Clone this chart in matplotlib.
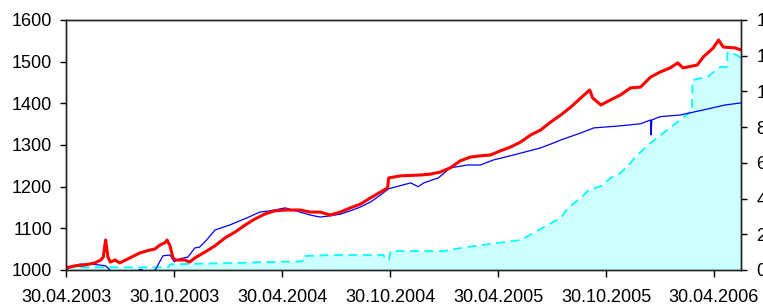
import pandas as pd
import matplotlib
matplotlib.use("Agg")
import matplotlib.pyplot as plt
import matplotlib.dates as mdates

plt.rcParams['font.family'] = ['Liberation Sans', 'DejaVu Sans']
plt.rcParams['font.size'] = 13

# red series (left axis)
red_dates = ['2003-04-30', '2003-05-15', '2003-06-01', '2003-06-18', '2003-06-28', '2003-07-02',
             '2003-07-06', '2003-07-10', '2003-07-14', '2003-07-22', '2003-07-30', '2003-08-16',
             '2003-09-02', '2003-09-19', '2003-09-27', '2003-10-06', '2003-10-14', '2003-10-18',
             '2003-10-23', '2003-10-28', '2003-11-02', '2003-11-17', '2003-11-25', '2003-12-04',
             '2003-12-21', '2004-01-07', '2004-01-24', '2004-02-10', '2004-02-27', '2004-03-14',
             '2004-03-31', '2004-04-17', '2004-05-05', '2004-05-30', '2004-06-16', '2004-07-03',
             '2004-07-20', '2004-08-06', '2004-08-23', '2004-09-09', '2004-09-26', '2004-10-13',
             '2004-10-25', '2004-10-27', '2004-11-16', '2004-12-20', '2005-01-05', '2005-01-22',
             '2005-02-08', '2005-02-25', '2005-03-14', '2005-03-31', '2005-04-17', '2005-05-04',
             '2005-05-21', '2005-06-07', '2005-06-24', '2005-07-11', '2005-07-28', '2005-08-14',
             '2005-08-31', '2005-09-17', '2005-10-02', '2005-10-07', '2005-10-21', '2005-11-06',
             '2005-11-23', '2005-12-10', '2005-12-27', '2006-01-13', '2006-01-29', '2006-02-15',
             '2006-02-28', '2006-03-09', '2006-04-02', '2006-04-12', '2006-04-29', '2006-05-08',
             '2006-05-16', '2006-06-05', '2006-06-15']
red_vals = [1005, 1010, 1012, 1017, 1024, 1031,
            1072, 1031, 1019, 1024, 1017, 1029,
            1041, 1048, 1050, 1060, 1065, 1072,
            1058, 1029, 1024, 1024, 1019, 1029,
            1043, 1058, 1077, 1091, 1108, 1122,
            1134, 1142, 1144, 1144, 1139, 1139,
            1132, 1139, 1149, 1158, 1173, 1187,
            1197, 1221, 1226, 1228, 1230, 1235,
            1245, 1262, 1271, 1274, 1276, 1286,
            1295, 1307, 1324, 1336, 1355, 1372,
            1391, 1413, 1432, 1413, 1396, 1408,
            1420, 1437, 1439, 1463, 1475, 1485,
            1497, 1485, 1492, 1511, 1533, 1552,
            1535, 1533, 1528]

# blue series (left axis)
blue_dates = ['2003-04-30', '2003-05-07', '2003-05-23', '2003-06-09', '2003-06-26', '2003-07-06',
              '2003-07-13', '2003-07-20', '2003-08-24', '2003-09-01', '2003-09-06', '2003-09-10',
              '2003-09-28', '2003-10-11', '2003-10-23', '2003-10-30', '2003-11-09', '2003-11-22',
              '2003-11-25', '2003-12-04', '2003-12-12', '2003-12-24', '2004-01-07', '2004-02-01',
              '2004-03-01', '2004-03-23', '2004-04-09', '2004-05-05', '2004-05-30', '2004-06-16',
              '2004-07-03', '2004-07-20', '2004-08-06', '2004-08-23', '2004-09-09', '2004-09-26',
              '2004-10-13', '2004-10-27', '2004-12-03', '2004-12-16', '2004-12-25', '2005-01-19',
              '2005-02-08', '2005-03-09', '2005-03-31', '2005-04-22', '2005-05-26', '2005-07-11',
              '2005-08-02', '2005-08-14', '2005-09-17', '2005-10-09', '2005-11-23', '2005-12-27',
              '2006-01-13', '2006-01-14', '2006-01-15', '2006-01-29', '2006-03-04', '2006-04-12',
              '2006-05-19', '2006-06-15']
blue_vals = [1000, 1007, 1014, 1014, 1012, 1010,
             1000, 985, 980, 1001, 1001, 985,
             1000, 1034, 1036, 1020, 1027, 1031,
             1036, 1053, 1055, 1072, 1096, 1108,
             1125, 1139, 1142, 1149, 1139, 1132,
             1127, 1130, 1134, 1142, 1151, 1163,
             1180, 1195, 1209, 1200, 1209, 1221,
             1245, 1252, 1252, 1264, 1276, 1293,
             1305, 1312, 1329, 1341, 1346, 1351,
             1360, 1324, 1360, 1368, 1372, 1384,
             1396, 1401]

# cyan area (right axis)
cyan_dates = ['2003-04-30', '2003-10-20', '2003-10-23', '2004-01-24', '2004-04-26', '2004-06-03',
              '2004-06-04', '2004-07-20', '2004-10-18', '2004-10-22', '2004-10-27', '2004-10-30',
              '2005-01-27', '2005-03-09', '2005-04-29', '2005-06-07', '2005-06-29', '2005-07-23',
              '2005-08-14', '2005-08-26', '2005-09-17', '2005-09-30', '2005-10-21', '2005-11-06',
              '2005-11-23', '2005-12-10', '2005-12-18', '2006-01-13', '2006-02-10', '2006-03-04',
              '2006-03-21', '2006-03-24', '2006-03-25', '2006-04-19', '2006-05-11', '2006-05-22',
              '2006-05-23', '2006-05-28', '2006-06-13', '2006-06-15']
cyan_vals = [0.15, 0.15, 0.32, 0.38, 0.46, 0.48,
             0.78, 0.84, 0.84, 0.56, 0.56, 1.06,
             1.06, 1.29, 1.51, 1.68, 2.07, 2.52,
             2.91, 3.47, 4.03, 4.48, 4.70, 5.15,
             5.43, 5.99, 6.33, 7.11, 7.84, 8.40,
             8.85, 8.85, 10.64, 10.81, 11.37, 11.37,
             12.15, 12.21, 11.93, 11.93]

x_ticks = ['2003-04-30', '2003-10-30', '2004-04-30', '2004-10-30',
           '2005-04-30', '2005-10-30', '2006-04-30']
left_ticks = [1000, 1100, 1200, 1300, 1400, 1500, 1600]
right_ticks = [0, 2, 4, 6, 8, 10, 12, 14]

red_d = pd.to_datetime(red_dates)
blue_d = pd.to_datetime(blue_dates)
cyan_d = pd.to_datetime(cyan_dates)

fig = plt.figure(figsize=(7.63, 3.07), dpi=100)
ax = fig.add_axes([66 / 763, 37 / 307, 675 / 763, 250 / 307])
ax2 = ax.twinx()

ax2.fill_between(cyan_d, cyan_vals, 0, color='#CCFFFF', linewidth=0)
ax2.plot(cyan_d, cyan_vals, color='#00FFFF', lw=1.3, dashes=(5, 3))
ax2.set_ylim(0, 14)
ax2.set_yticks(right_ticks)

ax.set_zorder(ax2.get_zorder() + 1)
ax.patch.set_visible(False)
ax.plot(blue_d, blue_vals, color='#0000FF', lw=0.9)
ax.plot(red_d, red_vals, color='#FF0000', lw=2.2)

ax.set_ylim(1000, 1600)
ax.set_yticks(left_ticks)
ax.set_xlim(pd.Timestamp('2003-04-30'), pd.Timestamp('2006-06-15'))
ax.set_xticks(pd.to_datetime(x_ticks))
ax.xaxis.set_major_formatter(mdates.DateFormatter('%d.%m.%Y'))

ax.tick_params(axis='x', length=5, pad=9, width=1)
ax.tick_params(axis='y', length=4, pad=6, width=1)
ax2.tick_params(axis='y', length=4, pad=7, width=1)
for a in (ax, ax2):
    for s in a.spines.values():
        s.set_color('#222222')
        s.set_linewidth(1)

fig.savefig('out.png', dpi=100)
